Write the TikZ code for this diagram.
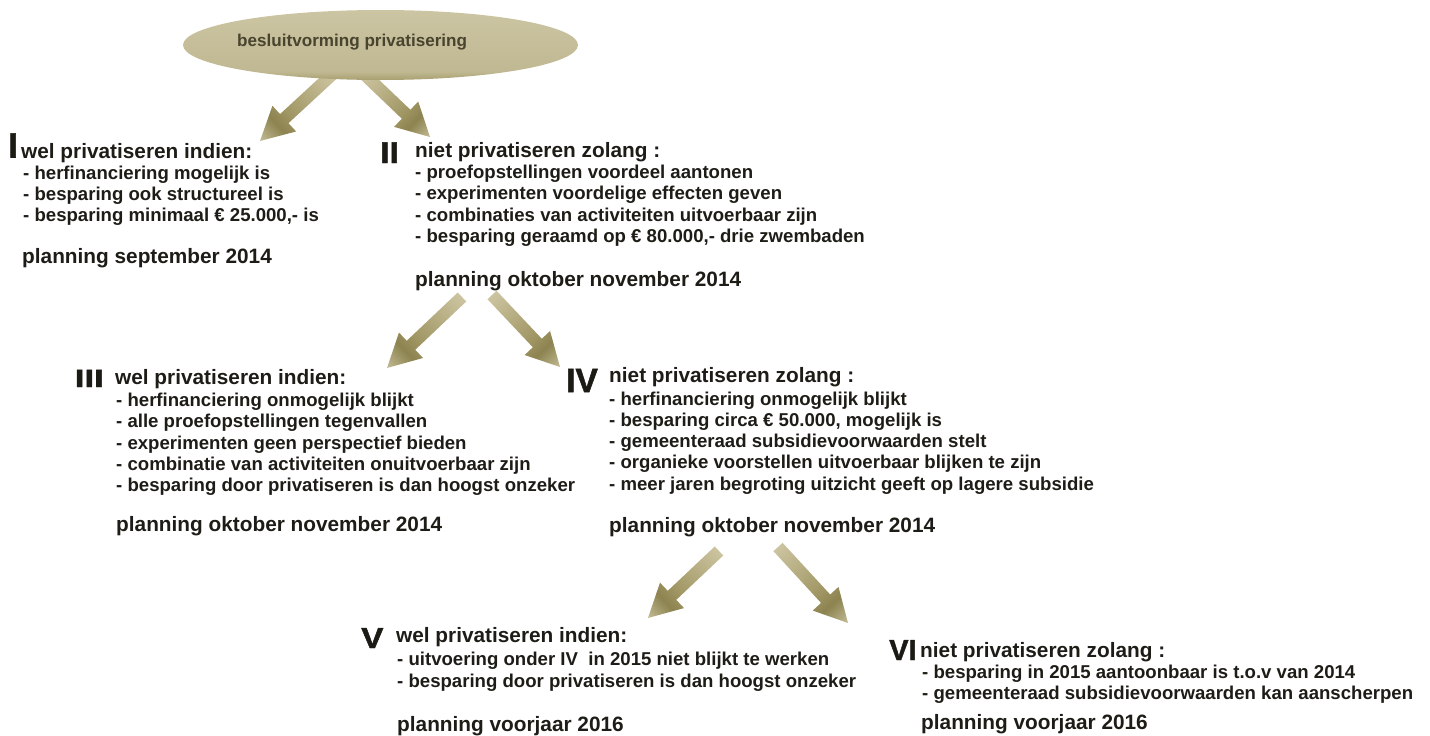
\documentclass[tikz,border=0pt]{standalone}
\usepackage{fontspec}
\setmainfont{Liberation Sans}
\newfontfamily\numfam{Liberation Sans Bold}[FakeBold=1.5]
\usepackage{graphicx}
\usetikzlibrary{shapes.geometric}
\definecolor{txt}{RGB}{30,28,22}
\definecolor{numc}{RGB}{28,26,20}
\definecolor{toptxt}{RGB}{72,68,46}
\definecolor{aL}{RGB}{204,196,160}
\definecolor{aM}{RGB}{160,150,100}
\definecolor{aD}{RGB}{140,131,80}
\definecolor{aT}{RGB}{196,188,150}
\definecolor{eB}{RGB}{168,159,112}
\definecolor{eM}{RGB}{192,184,146}
\definecolor{eT}{RGB}{204,197,163}
\pgfdeclarehorizontalshading{arrsh}{100bp}{color(0bp)=(aL); color(25bp)=(aL); color(55bp)=(aM); color(63bp)=(aD); color(75bp)=(aT); color(100bp)=(aT)}
\pgfdeclareverticalshading{ellsh}{100bp}{color(0bp)=(eB); color(25bp)=(eB); color(31bp)=(eM); color(75bp)=(eT); color(100bp)=(eT)}
\newcommand{\fTitle}{\fontsize{20.8pt}{24pt}\selectfont\bfseries}
\newcommand{\fBul}{\fontsize{18.6pt}{22pt}\selectfont\bfseries}
\newcommand{\fNum}[1]{\fontsize{#1pt}{#1pt}\numfam}
\newcommand{\fTop}{\fontsize{17.1pt}{20pt}\selectfont\bfseries}
\makeatletter
\newcommand{\blockarrow}[2]{%
  \pgfpointanchor{#1}{center}\edef\ba@x{\the\pgf@x}\edef\ba@y{\the\pgf@y}%
  \pgfpointanchor{#2}{center}\edef\bb@x{\the\pgf@x}\edef\bb@y{\the\pgf@y}%
  \pgfmathsetmacro{\ba@ang}{atan2((\bb@y)-(\ba@y),(\bb@x)-(\ba@x))}%
  \pgfmathsetmacro{\ba@len}{veclen((\bb@x)-(\ba@x),(\bb@y)-(\ba@y))}%
  \pgfmathsetmacro{\ba@neck}{\ba@len-33}%
  \begin{scope}[transform canvas={shift={(#1)},rotate=\ba@ang}]
    \shade[shading=arrsh] (0pt,-6.2pt) -- (\ba@neck pt,-6.2pt) -- (\ba@neck pt,-17.5pt) -- (\ba@len pt,0pt) -- (\ba@neck pt,17.5pt) -- (\ba@neck pt,6.2pt) -- (0pt,6.2pt) -- cycle;
  \end{scope}%
}
\makeatother
\tikzset{
  ttl/.style={anchor=base west, inner sep=0pt, text=txt, font=\fTitle},
  bul/.style={anchor=base west, inner sep=0pt, text=txt, font=\fBul},
  num/.style={anchor=base west, inner sep=0pt, text=numc},
}
\begin{document}
\begin{tikzpicture}[x=1pt,y=-1pt]
\useasboundingbox (0,0) rectangle (1430,736);
% arrow end points
\coordinate (t1) at (332,74.6);  \coordinate (h1) at (260,141);
\coordinate (t2) at (365,75);    \coordinate (h2) at (430,137);
\coordinate (t3) at (462,297);   \coordinate (h3) at (387,368);
\coordinate (t4) at (492,295);   \coordinate (h4) at (560,367);
\coordinate (t5) at (719,551);   \coordinate (h5) at (648,618);
\coordinate (t6) at (778,547);   \coordinate (h6) at (848,623);
\blockarrow{t1}{h1}
\blockarrow{t2}{h2}
\blockarrow{t3}{h3}
\blockarrow{t4}{h4}
\blockarrow{t5}{h5}
\blockarrow{t6}{h6}
% top ellipse
\node[ellipse, minimum width=395pt, minimum height=70pt, inner sep=0pt, shade, shading=ellsh] (top) at (380.5,45) {};
\node[anchor=base west, inner sep=0pt, text=toptxt, font=\fTop] (toptext) at (237,46) {besluitvorming privatisering};
% Block I
\node[num, font=\fNum{35}] (n1) at (8,157.5) {I};
\node[ttl] (b1t) at (21,158) {wel privatiseren indien:};
\node[bul] (b1a) at (23,179.3) {- herfinanciering mogelijk is};
\node[bul] (b1b) at (23,200.6) {- besparing ook structureel is};
\node[bul] (b1c) at (23,221.9) {- besparing minimaal € 25.000,- is};
\node[ttl] (b1p) at (22,263) {planning september 2014};
% Block II
\node[num, font=\fNum{30}] (n2) at (380,163) {\scalebox{1.12}[1]{II}};
\node[ttl] (b2t) at (415,157) {niet privatiseren zolang :};
\node[bul] (b2a) at (415,178.5) {- proefopstellingen voordeel aantonen};
\node[bul] (b2b) at (415,199.8) {- experimenten voordelige effecten geven};
\node[bul] (b2c) at (415,221.1) {- combinaties van activiteiten uitvoerbaar zijn};
\node[bul] (b2d) at (415,242.4) {- besparing geraamd op € 80.000,- drie zwembaden};
\node[ttl] (b2p) at (415,286.5) {planning oktober november 2014};
% Block III
\node[num, font=\fNum{25}] (n3) at (74.5,387) {\scalebox{1.4}[1]{III}};
\node[ttl] (b3t) at (115,384.5) {wel privatiseren indien:};
\node[bul] (b3a) at (116,406.5) {- herfinanciering onmogelijk blijkt};
\node[bul] (b3b) at (116,427.8) {- alle proefopstellingen tegenvallen};
\node[bul] (b3c) at (116,449.1) {- experimenten geen perspectief bieden};
\node[bul] (b3d) at (116,470.4) {- combinatie van activiteiten onuitvoerbaar zijn};
\node[bul] (b3e) at (116,491.7) {- besparing door privatiseren is dan hoogst onzeker};
\node[ttl] (b3p) at (116,531) {planning oktober november 2014};
% Block IV
\node[num, font=\fNum{33.5}] (n4) at (566,392) {IV};
\node[ttl] (b4t) at (609,382.5) {niet privatiseren zolang :};
\node[bul] (b4a) at (609,405) {- herfinanciering onmogelijk blijkt};
\node[bul] (b4b) at (609,426.3) {- besparing circa € 50.000, mogelijk is};
\node[bul] (b4c) at (609,447.6) {- gemeenteraad subsidievoorwaarden stelt};
\node[bul] (b4d) at (609,468.9) {- organieke voorstellen uitvoerbaar blijken te zijn};
\node[bul] (b4e) at (609,490.2) {- meer jaren begroting uitzicht geeft op lagere subsidie};
\node[ttl] (b4p) at (609,532) {planning oktober november 2014};
% Block V
\node[num, font=\fNum{29}] (n5) at (361,648) {\scalebox{1.15}[1]{V}};
\node[ttl] (b5t) at (396,642) {wel privatiseren indien:};
\node[bul] (b5a) at (397,665) {- uitvoering onder IV\ \ in 2015 niet blijkt te werken};
\node[bul] (b5b) at (397,687) {- besparing door privatiseren is dan hoogst onzeker};
\node[ttl] (b5p) at (397,731) {planning voorjaar 2016};
% Block VI
\node[num, font=\fNum{29}] (n6) at (889,660) {VI};
\node[ttl] (b6t) at (920,657) {niet privatiseren zolang :};
\node[bul] (b6a) at (922,678.5) {- besparing in 2015 aantoonbaar is t.o.v van 2014};
\node[bul] (b6b) at (922,699.5) {- gemeenteraad subsidievoorwaarden kan aanscherpen};
\node[ttl] (b6p) at (921,729) {planning voorjaar 2016};
\end{tikzpicture}
\end{document}
